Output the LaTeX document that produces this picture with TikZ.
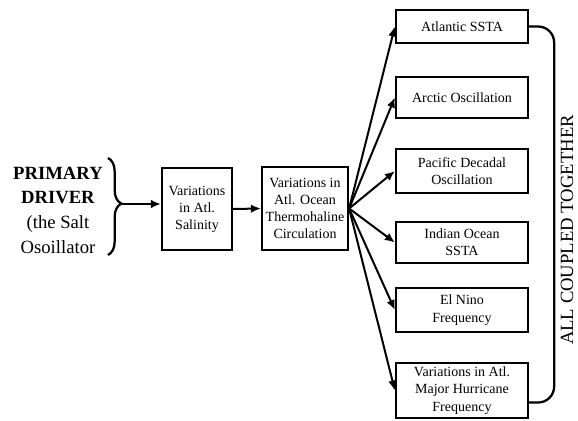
\documentclass[tikz,border=0pt]{standalone}
\usepackage{fontspec}
\setmainfont{Liberation Serif}
\usetikzlibrary{arrows.meta,decorations.pathreplacing}

\begin{document}
\begin{tikzpicture}[x=0.75pt,y=-0.75pt,
  box/.style={draw,line width=1.7pt,align=center,inner sep=1pt,font=\fontsize{10.5}{12.75}\selectfont},
  effect/.style={box,minimum width=99pt,font=\fontsize{10.5}{13}\selectfont},
  arr/.style={line width=1.5pt,-{Latex[length=7.5pt,width=6.5pt]}}]
\useasboundingbox (0,0) rectangle (578,421);
% the driver
\node[align=center,font=\fontsize{14}{18.5}\selectfont] (drv) at (58,210)
  {\textbf{PRIMARY}\\\textbf{DRIVER}\\(the Salt\\Osoillator};
\draw[line width=1.7pt,decorate,decoration={brace,amplitude=10pt,aspect=0.47}] (108,158) -- (108,255);
\coordinate (tip) at (122,204);
% the chain
\node[box,minimum width=52.5pt,minimum height=61.5pt] (sal) at (197,209) {Variations\\in Atl.\\Salinity};
\node[box,minimum width=64.5pt,minimum height=62pt] (thc) at (305,208.5) {Variations in\\Atl. Ocean\\Thermohaline\\Circulation};
\draw[arr] (tip) -- (tip -| sal.west);
\draw[arr] (sal.east) -- (thc.west);
% the effects
\node[effect,minimum height=24.75pt] (atl) at (462,26.5) {Atlantic SSTA};
\node[effect,minimum height=30.75pt] (arc) at (462,97.5) {Arctic Oscillation};
\node[effect,minimum height=33pt] (pdo) at (462,171) {Pacific Decadal\\Oscillation};
\node[effect,minimum height=30.75pt] (ind) at (462,242.5) {Indian Ocean\\SSTA};
\node[effect,minimum height=33pt] (nino) at (462,310) {El Nino\\Frequency};
\node[effect,minimum height=41pt] (hur) at (462,390.5) {Variations in Atl.\\Major Hurricane\\Frequency};
\foreach \b in {atl,arc,pdo,ind,nino,hur}
  \draw[arr] (thc.east) -- (\b.west);
% coupling bracket
\draw[line width=1.7pt,rounded corners=12pt] (atl.east) -- ++(25,0) |- ([yshift=-9pt]hur.east);
\node[rotate=90,font=\fontsize{14}{16}\selectfont] (tog) at (567,230) {ALL COUPLED TOGETHER};
\end{tikzpicture}
\end{document}
